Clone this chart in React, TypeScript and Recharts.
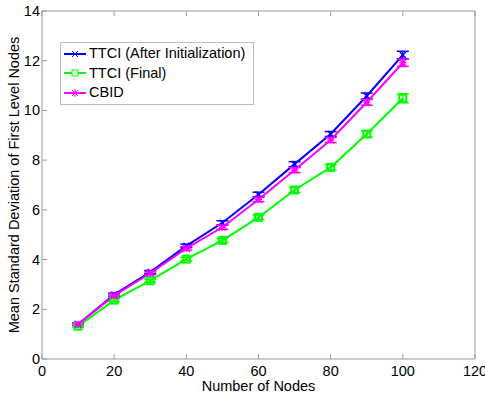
import React from 'react';
import { LineChart, Line, XAxis, YAxis, ErrorBar, Legend } from 'recharts';

const nodes = [10, 20, 30, 40, 50, 60, 70, 80, 90, 100];
const ttciInit = [1.4, 2.59, 3.5, 4.55, 5.48, 6.62, 7.84, 9.05, 10.58, 12.23];
const ttciInitErr = [0.05, 0.06, 0.06, 0.07, 0.08, 0.09, 0.1, 0.1, 0.12, 0.15];
const ttciFinal = [1.32, 2.37, 3.15, 4.02, 4.77, 5.7, 6.8, 7.71, 9.05, 10.49];
const ttciFinalErr = [0.05, 0.06, 0.06, 0.07, 0.08, 0.09, 0.1, 0.11, 0.13, 0.18];
const cbid = [1.4, 2.55, 3.45, 4.45, 5.3, 6.42, 7.6, 8.81, 10.33, 11.92];
const cbidErr = [0.05, 0.06, 0.06, 0.07, 0.08, 0.09, 0.1, 0.1, 0.12, 0.15];
const xTicks = [0, 20, 40, 60, 80, 100, 120];
const yTicks = [0, 2, 4, 6, 8, 10, 12, 14];

const BLUE = '#0000ff';
const GREEN = '#00ff00';
const MAGENTA = '#ff00ff';
const AXIS = '#999999';
const FONT = '"Liberation Sans", Arial, sans-serif';

const data = nodes.map((n, i) => ({
  n,
  a: ttciInit[i],
  aErr: ttciInitErr[i],
  f: ttciFinal[i],
  fErr: ttciFinalErr[i],
  c: cbid[i],
  cErr: cbidErr[i],
}));

const XDot = (p: any) => {
  const { cx, cy } = p;
  if (cx == null || cy == null) return null;
  const s = 3;
  return (
    <g stroke={BLUE} strokeWidth={1.5}>
      <line x1={cx - s} y1={cy - s} x2={cx + s} y2={cy + s} />
      <line x1={cx - s} y1={cy + s} x2={cx + s} y2={cy - s} />
    </g>
  );
};

const SquareDot = (p: any) => {
  const { cx, cy } = p;
  if (cx == null || cy == null) return null;
  return <rect x={cx - 3.5} y={cy - 3.5} width={7} height={7} fill="none" stroke={GREEN} strokeWidth={2} />;
};

const StarDot = (p: any) => {
  const { cx, cy } = p;
  if (cx == null || cy == null) return null;
  const s = 3.5;
  return (
    <g stroke={MAGENTA} strokeWidth={1.5}>
      <line x1={cx - s} y1={cy - s} x2={cx + s} y2={cy + s} />
      <line x1={cx - s} y1={cy + s} x2={cx + s} y2={cy - s} />
      <line x1={cx} y1={cy - s} x2={cx} y2={cy + s} />
      <line x1={cx - s} y1={cy} x2={cx + s} y2={cy} />
    </g>
  );
};

const BottomTick = (p: any) => {
  const { x, y, payload } = p;
  return (
    <g>
      <line x1={x} x2={x} y1={y} y2={y - 5} stroke={AXIS} />
      <text x={x} y={y + 17} textAnchor="middle" fontSize={14.5} fill="#000" fontFamily={FONT}>
        {payload.value}
      </text>
    </g>
  );
};

const TopTick = (p: any) => {
  const { x, y } = p;
  return <line x1={x} x2={x} y1={y} y2={y + 5} stroke={AXIS} />;
};

const LeftTick = (p: any) => {
  const { x, y, payload } = p;
  return (
    <g>
      <line x1={x} x2={x + 5} y1={y} y2={y} stroke={AXIS} />
      <text x={x - 2} y={y + 5} textAnchor="end" fontSize={14.5} fill="#000" fontFamily={FONT}>
        {payload.value}
      </text>
    </g>
  );
};

const RightTick = (p: any) => {
  const { x, y } = p;
  return <line x1={x} x2={x - 5} y1={y} y2={y} stroke={AXIS} />;
};

const legendItems = [
  { label: 'TTCI (After Initialization)', color: BLUE, kind: 'x' },
  { label: 'TTCI (Final)', color: GREEN, kind: 'sq' },
  { label: 'CBID', color: MAGENTA, kind: 'star' },
];

const LegendContent = () => (
  <div
    style={{
      border: '1px solid #bdbdbd',
      background: '#fff',
      padding: '1px 8px 1px 2px',
      fontFamily: FONT,
      fontSize: 14.5,
      lineHeight: '19.5px',
      color: '#000',
    }}
  >
    {legendItems.map((it) => (
      <div key={it.label} style={{ display: 'flex', alignItems: 'center', whiteSpace: 'nowrap' }}>
        <svg width={24} height={12} style={{ marginRight: 2 }}>
          <line x1={1} x2={23} y1={6} y2={6} stroke={it.color} strokeWidth={2} />
          {it.kind === 'x' && (
            <g stroke={it.color} strokeWidth={1}>
              <line x1={9} y1={3} x2={15} y2={9} />
              <line x1={9} y1={9} x2={15} y2={3} />
            </g>
          )}
          {it.kind === 'sq' && <rect x={9} y={3} width={6} height={6} fill="#fff" stroke={it.color} strokeWidth={1} />}
          {it.kind === 'star' && (
            <g stroke={it.color} strokeWidth={1}>
              <line x1={9} y1={3} x2={15} y2={9} />
              <line x1={9} y1={9} x2={15} y2={3} />
              <line x1={12} y1={2} x2={12} y2={10} />
            </g>
          )}
        </svg>
        <span>{it.label}</span>
      </div>
    ))}
  </div>
);

export default function App() {
  return (
    <div style={{ position: 'absolute', left: 0, top: 0, width: 485, height: 393, background: '#fff', fontFamily: FONT }}>
      <LineChart width={485} height={393} data={data} margin={{ top: 0, right: 0, bottom: 0, left: 0 }}>
        <XAxis
          dataKey="n"
          type="number"
          domain={[0, 120]}
          ticks={xTicks}
          height={34}
          stroke={AXIS}
          tickLine={false}
          tickSize={0}
          tickMargin={0}
          tick={<BottomTick />}
          interval={0}
          label={{ value: 'Number of Nodes', position: 'insideBottom', offset: 2, fontSize: 14.5, fill: '#000', fontFamily: FONT }}
        />
        <XAxis
          xAxisId="top"
          dataKey="n"
          type="number"
          orientation="top"
          domain={[0, 120]}
          ticks={xTicks}
          height={11}
          stroke={AXIS}
          tickLine={false}
          tickSize={0}
          tickMargin={0}
          tick={<TopTick />}
          interval={0}
        />
        <YAxis
          type="number"
          domain={[0, 14]}
          ticks={yTicks}
          width={42}
          stroke={AXIS}
          tickLine={false}
          tickSize={0}
          tickMargin={0}
          tick={<LeftTick />}
          interval={0}
          label={{
            value: 'Mean Standard Deviation of First Level Nodes',
            angle: -90,
            position: 'insideLeft',
            offset: 14,
            style: { textAnchor: 'middle' },
            fontSize: 14.5,
            fill: '#000',
            fontFamily: FONT,
          }}
        />
        <YAxis
          yAxisId="right"
          orientation="right"
          type="number"
          domain={[0, 14]}
          ticks={yTicks}
          width={10}
          stroke={AXIS}
          tickLine={false}
          tickSize={0}
          tickMargin={0}
          tick={<RightTick />}
          interval={0}
        />
        <Legend
          layout="vertical"
          align="center"
          verticalAlign="middle"
          content={<LegendContent />}
          wrapperStyle={{ position: 'absolute', left: 60, top: 42, width: 'auto', height: 'auto' }}
        />
        <Line type="linear" dataKey="f" stroke={GREEN} strokeWidth={2} dot={<SquareDot />} isAnimationActive={false}>
          <ErrorBar dataKey="fErr" width={6} stroke={GREEN} strokeWidth={1.5} direction="y" />
        </Line>
        <Line type="linear" dataKey="a" stroke={BLUE} strokeWidth={2} dot={<XDot />} isAnimationActive={false}>
          <ErrorBar dataKey="aErr" width={6} stroke={BLUE} strokeWidth={1.5} direction="y" />
        </Line>
        <Line type="linear" dataKey="c" stroke={MAGENTA} strokeWidth={2} dot={<StarDot />} isAnimationActive={false}>
          <ErrorBar dataKey="cErr" width={6} stroke={MAGENTA} strokeWidth={1.5} direction="y" />
        </Line>
      </LineChart>
    </div>
  );
}
